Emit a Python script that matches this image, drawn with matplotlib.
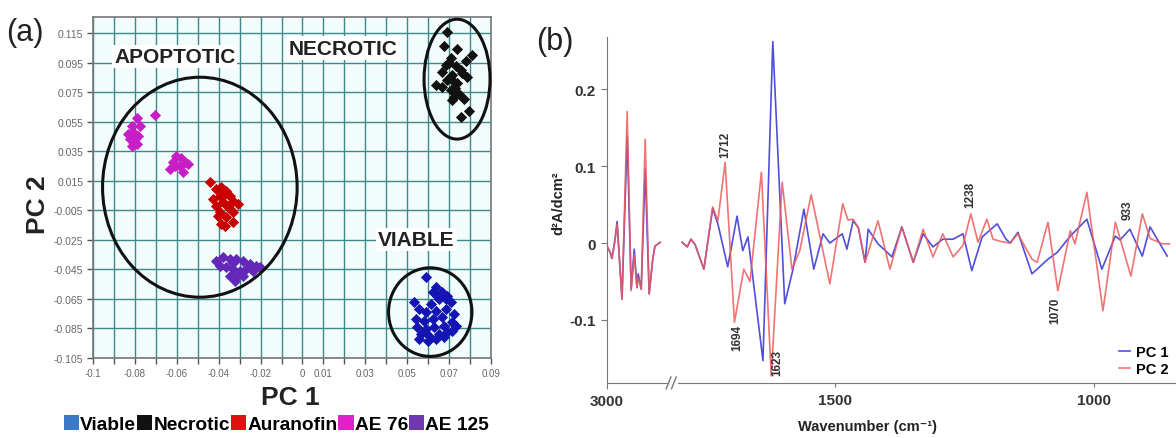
import numpy as np
import matplotlib
matplotlib.use("Agg")
import matplotlib.pyplot as plt
from matplotlib.patches import Ellipse, Patch
from matplotlib.lines import Line2D

plt.rcParams['font.family'] = ['Liberation Sans', 'DejaVu Sans']

# ---------------- panel (a) : PCA scores ----------------
groups = ['Viable', 'Necrotic', 'Auranofin', 'AE 76', 'AE 125']
legend_colors = ['#3a78c8', '#111111', '#e01010', '#e020c8', '#7038b0']
marker_colors = ['#1414b4', '#111111', '#c80000', '#c81ec8', '#6428b8']

viable_x = [0.0589, 0.0637, 0.0668, 0.0692, 0.0652, 0.0708, 0.0613, 0.0533, 0.0557, 0.0589,
            0.0637, 0.0684, 0.0724, 0.0541, 0.0581, 0.0621, 0.0668, 0.0716, 0.0732, 0.0549,
            0.0589, 0.0629, 0.0676, 0.0565, 0.0605, 0.0652, 0.0692, 0.0557, 0.0597, 0.0637,
            0.0676, 0.0716, 0.0644, 0.0621, 0.0684]
viable_y = [-0.0504, -0.0572, -0.0606, -0.0629, -0.0651, -0.0673, -0.0685, -0.0673, -0.0719, -0.0741,
            -0.0730, -0.0719, -0.0752, -0.0786, -0.0797, -0.0786, -0.0775, -0.0808, -0.0832, -0.0843,
            -0.0854, -0.0843, -0.0832, -0.0888, -0.0899, -0.0888, -0.0876, -0.0922, -0.0933, -0.0922,
            -0.0910, -0.0865, -0.0629, -0.0606, -0.0651]

necrotic_x = [0.0692, 0.0676, 0.0740, 0.0811, 0.0708, 0.0779, 0.0684, 0.0732, 0.0756, 0.0668,
              0.0716, 0.0787, 0.0637, 0.0668, 0.0740, 0.0708, 0.0748, 0.0724, 0.0771, 0.0716,
              0.0795, 0.0756, 0.0692, 0.0724, 0.0700, 0.0730, 0.0760]
necrotic_y = [0.1155, 0.1062, 0.1040, 0.1005, 0.0982, 0.0959, 0.0936, 0.0925, 0.0902, 0.0890,
              0.0867, 0.0856, 0.0798, 0.0787, 0.0810, 0.0764, 0.0741, 0.0718, 0.0707, 0.0695,
              0.0626, 0.0580, 0.0833, 0.0821, 0.0950, 0.0780, 0.0880]

auranofin_x = [-0.0443, -0.0411, -0.0363, -0.0395, -0.0348, -0.0427, -0.0379, -0.0332, -0.0411, -0.0355,
               -0.0308, -0.0395, -0.0348, -0.0332, -0.0403, -0.0363, -0.0387, -0.0332, -0.0371, -0.0371,
               -0.0387]
auranofin_y = [0.0139, 0.0094, 0.0083, 0.0048, 0.0048, 0.0026, 0.0004, 0.0015, -0.0019, -0.0030,
               -0.0007, -0.0064, -0.0042, -0.0064, -0.0087, -0.0098, -0.0143, -0.0132, -0.0155, 0.0060,
               0.0110]

ae76_x = [-0.0792, -0.0816, -0.0808, -0.0832, -0.0824, -0.0808, -0.0792, -0.0816, -0.0784, -0.0776,
          -0.0705, -0.0633, -0.0618, -0.0602, -0.0578, -0.0562, -0.0546, -0.0586, -0.0570, -0.0610]
ae76_y = [0.0579, 0.0522, 0.0478, 0.0466, 0.0432, 0.0410, 0.0398, 0.0387, 0.0455, 0.0522,
          0.0595, 0.0229, 0.0275, 0.0319, 0.0308, 0.0275, 0.0263, 0.0252, 0.0207, 0.0252]

ae125_x = [-0.0411, -0.0379, -0.0348, -0.0316, -0.0284, -0.0252, -0.0221, -0.0205, -0.0395, -0.0363,
           -0.0332, -0.0300, -0.0268, -0.0237, -0.0348, -0.0316, -0.0284, -0.0324, -0.0292, -0.0332]
ae125_y = [-0.0392, -0.0369, -0.0380, -0.0376, -0.0392, -0.0414, -0.0425, -0.0436, -0.0425, -0.0436,
           -0.0448, -0.0459, -0.0448, -0.0459, -0.0493, -0.0504, -0.0493, -0.0527, -0.0482, -0.0403]

pc1_ticks = [-0.1, -0.09, -0.08, -0.07, -0.06, -0.05, -0.04, -0.03, -0.02, -0.01,
             0.0, 0.01, 0.02, 0.03, 0.04, 0.05, 0.06, 0.07, 0.08, 0.09]
pc1_labels = ['-0.1', '', '-0.08', '', '-0.06', '', '-0.04', '', '-0.02', '',
              '0', '0.01', '', '0.03', '', '0.05', '', '0.07', '', '0.09']
pc2_ticks = [0.115, 0.095, 0.075, 0.055, 0.035, 0.015, -0.005, -0.025, -0.045, -0.065, -0.085, -0.105]
pc2_labels = ['0.115', '0.095', '0.075', '0.055', '0.035', '0.015', '-0.005', '-0.025',
              '-0.045', '-0.065', '-0.085', '-0.105']

# ---------------- panel (b) : loadings ----------------
wn_ch = [3000, 2990, 2984, 2975, 2967, 2951, 2934, 2921, 2911, 2902, 2898, 2888, 2875, 2862, 2850, 2843, 2826]
pc1_ch = [-0.004, -0.012, -0.020, 0.002, 0.028, -0.073, 0.139, -0.060, -0.008, -0.058, -0.040, -0.060,
          0.096, -0.066, -0.020, -0.004, 0.001]
pc2_ch = [-0.004, -0.012, -0.020, 0.000, 0.024, -0.073, 0.171, -0.062, -0.015, -0.058, -0.045, -0.060,
          0.135, -0.066, -0.020, -0.004, 0.001]

wn_pc1 = [1795, 1785, 1778, 1770, 1753, 1736, 1726, 1707, 1689, 1678, 1668, 1639, 1620, 1597, 1581,
          1560, 1541, 1523, 1510, 1486, 1477, 1465, 1455, 1442, 1436, 1417, 1390, 1371, 1349, 1330,
          1311, 1292, 1272, 1253, 1236, 1216, 1187, 1170, 1162, 1147, 1120, 1089, 1071, 1046, 1014,
          985, 959, 950, 931, 907, 892, 859]
pc1 = [0.001, -0.005, 0.005, -0.002, -0.034, 0.045, 0.025, -0.031, 0.035, -0.010, 0.008, -0.153, 0.262,
       -0.079, -0.034, 0.044, -0.034, 0.012, 0.000, 0.012, -0.008, 0.029, 0.020, -0.025, 0.018, -0.001,
       -0.018, 0.021, -0.025, 0.012, -0.005, 0.005, 0.005, 0.012, -0.036, 0.008, 0.025, 0.005, 0.000,
       0.014, -0.040, -0.021, -0.012, 0.009, 0.031, -0.034, 0.009, 0.004, 0.018, -0.017, 0.021, -0.017]

wn_pc2 = [1795, 1785, 1778, 1770, 1753, 1736, 1726, 1712, 1694, 1676, 1664, 1642, 1623, 1602, 1583,
          1568, 1546, 1510, 1485, 1475, 1465, 1455, 1442, 1417, 1394, 1371, 1349, 1330, 1311, 1292,
          1272, 1253, 1238, 1224, 1207, 1195, 1180, 1162, 1147, 1120, 1110, 1089, 1070, 1046, 1037,
          1014, 983, 959, 929, 907, 892, 869, 855]
pc2 = [0.001, -0.005, 0.005, -0.002, -0.034, 0.047, 0.029, 0.105, -0.103, -0.034, -0.050, 0.092, -0.173,
       0.079, -0.034, -0.010, 0.063, -0.053, 0.051, 0.030, 0.031, 0.020, -0.025, 0.029, -0.034, 0.021,
       -0.025, 0.018, -0.018, 0.012, -0.018, -0.003, 0.038, 0.001, 0.031, 0.005, 0.002, 0.000, 0.012,
       -0.021, -0.025, 0.027, -0.062, 0.016, -0.001, 0.066, -0.088, 0.027, -0.043, 0.038, 0.006, -0.001,
       -0.001]

# band labels: (text, wavenumber, value at label end, above?)
bands = [('1712', 1712, 0.112, True), ('1694', 1689, -0.105, False), ('1623', 1612, -0.138, False),
         ('1238', 1239, 0.047, True), ('1070', 1075, -0.070, False), ('933', 936, 0.031, True)]

fig = plt.figure(figsize=(11.76, 4.39), dpi=100)

# ---- (a)
ax = fig.add_axes([0.0791, 0.1822, 0.3384, 0.7768])
ax.set_facecolor('#f2fcfc')
ax.set_xlim(-0.1, 0.09)
ax.set_ylim(-0.105, 0.126)
for t in pc1_ticks:
    ax.axvline(t, color='#3d8a8a', lw=1.0, zorder=0)
for t in pc2_ticks:
    ax.axhline(t, color='#3d8a8a', lw=1.0, zorder=0)
ax.set_xticks(pc1_ticks)
ax.set_xticklabels(pc1_labels, fontsize=7, color='#666666')
ax.set_yticks(pc2_ticks)
ax.set_yticklabels(pc2_labels, fontsize=7.5, color='#666666')
ax.tick_params(length=4, width=1, color='#555555', pad=3)
for s in ax.spines.values():
    s.set_color('#777777')
    s.set_linewidth(1.2)

data = [(viable_x, viable_y), (necrotic_x, necrotic_y), (auranofin_x, auranofin_y),
        (ae76_x, ae76_y), (ae125_x, ae125_y)]
for (xs, ys), c in zip(data, marker_colors):
    ax.scatter(xs, ys, marker='D', s=26, color=c, edgecolor=c, linewidths=0.6, zorder=3)

ax.add_patch(Ellipse((-0.049, 0.0107), 0.0929, 0.149, fill=False, ec='#111111', lw=2.2, zorder=4))
ax.add_patch(Ellipse((0.0738, 0.0839), 0.0315, 0.0812, fill=False, ec='#111111', lw=2.2, zorder=4,
                     clip_on=False))
ax.add_patch(Ellipse((0.061, -0.0739), 0.0398, 0.0600, fill=False, ec='#111111', lw=2.2, zorder=4))

box = dict(fc='white', ec='none', pad=1.5)
ax.text(-0.061, 0.0994, 'APOPTOTIC', fontsize=15, fontweight='bold', ha='center', va='center',
        color='#222222', bbox=box, zorder=5)
ax.text(0.0195, 0.1050, 'NECROTIC', fontsize=15, fontweight='bold', ha='center', va='center',
        color='#222222', bbox=box, zorder=5)
ax.text(0.0543, -0.0245, 'VIABLE', fontsize=15, fontweight='bold', ha='center', va='center',
        color='#222222', bbox=box, zorder=5)

fig.text(0.247, 0.093, 'PC 1', fontsize=19, fontweight='bold', ha='center', va='center', color='#222222')
fig.text(0.032, 0.533, 'PC 2', fontsize=19, fontweight='bold', ha='center', va='center', rotation=90,
         color='#222222')
fig.text(0.005, 0.925, '(a)', fontsize=22, ha='left', va='center', color='#222222')

handles = [Patch(facecolor=c, edgecolor='none') for c in legend_colors]
fig.legend(handles, groups, loc='center', bbox_to_anchor=(0.235, 0.032), ncol=5, frameon=False,
           prop={'weight': 'bold', 'size': 13.8}, handlelength=0.8, handleheight=0.8,
           handletextpad=0.05, columnspacing=0.05, borderpad=0)

# ---- (b)
bl = fig.add_axes([0.5162, 0.1253, 0.0519, 0.7882])
br = fig.add_axes([0.5765, 0.1253, 0.4235, 0.7882], sharey=bl)
blue = '#4f4fdc'
red = '#f05a5a'
bl.plot(wn_ch, pc1_ch, color=blue, lw=1.2)
bl.plot(wn_ch, pc2_ch, color=red, lw=1.2, alpha=0.85)
br.plot(wn_pc1, pc1, color=blue, lw=1.2, label='PC 1')
br.plot(wn_pc2, pc2, color=red, lw=1.2, alpha=0.85, label='PC 2')

bl.set_xlim(3000, 2800)
br.set_xlim(1803, 842)
bl.set_ylim(-0.182, 0.268)
for a in (bl, br):
    a.spines['top'].set_visible(False)
    a.spines['right'].set_visible(False)
    a.spines['bottom'].set_color('#777777')
    a.spines['left'].set_color('#777777')
    a.set_facecolor('none')
br.spines['left'].set_visible(False)
br.tick_params(axis='y', left=False, labelleft=False)
bl.set_yticks([0.2, 0.1, 0, -0.1])
bl.set_yticklabels(['0.2', '0.1', '0', '-0.1'], fontsize=11, fontweight='bold', color='#333333')
bl.set_xticks([3000])
bl.set_xticklabels(['3000'], fontsize=11, fontweight='bold', color='#333333')
br.set_xticks([1500, 1000])
br.set_xticklabels(['1500', '1000'], fontsize=11, fontweight='bold', color='#333333')
bl.tick_params(length=4, color='#777777', pad=4)
br.tick_params(axis='x', length=3, color='#777777', pad=4)

for lab, w, v, up in bands:
    br.text(w, v, lab, rotation=90, fontsize=8.5, fontweight='bold', color='#333333', ha='center',
            va='bottom' if up else 'top')

br.legend(loc='lower right', bbox_to_anchor=(1.0, 0.0), frameon=False, handlelength=0.8,
          handletextpad=0.4, labelspacing=0.2, borderaxespad=0.1,
          prop={'weight': 'bold', 'size': 10.5})

# axis break marks
for dx in (0.0, 0.0045):
    fig.add_artist(Line2D([0.5665 + dx, 0.5705 + dx], [0.112, 0.139], color='#777777', lw=1))

fig.text(0.738, 0.028, 'Wavenumber (cm\u207b\u00b9)', fontsize=10.5, fontweight='bold', ha='center',
         va='center', color='#222222')
fig.text(0.475, 0.537, 'd\u00b2A/dcm\u00b2', fontsize=10.5, fontweight='bold', ha='center', va='center',
         rotation=90, color='#222222')
fig.text(0.456, 0.905, '(b)', fontsize=22, ha='left', va='center', color='#222222')

fig.savefig('out.png', dpi=100)
